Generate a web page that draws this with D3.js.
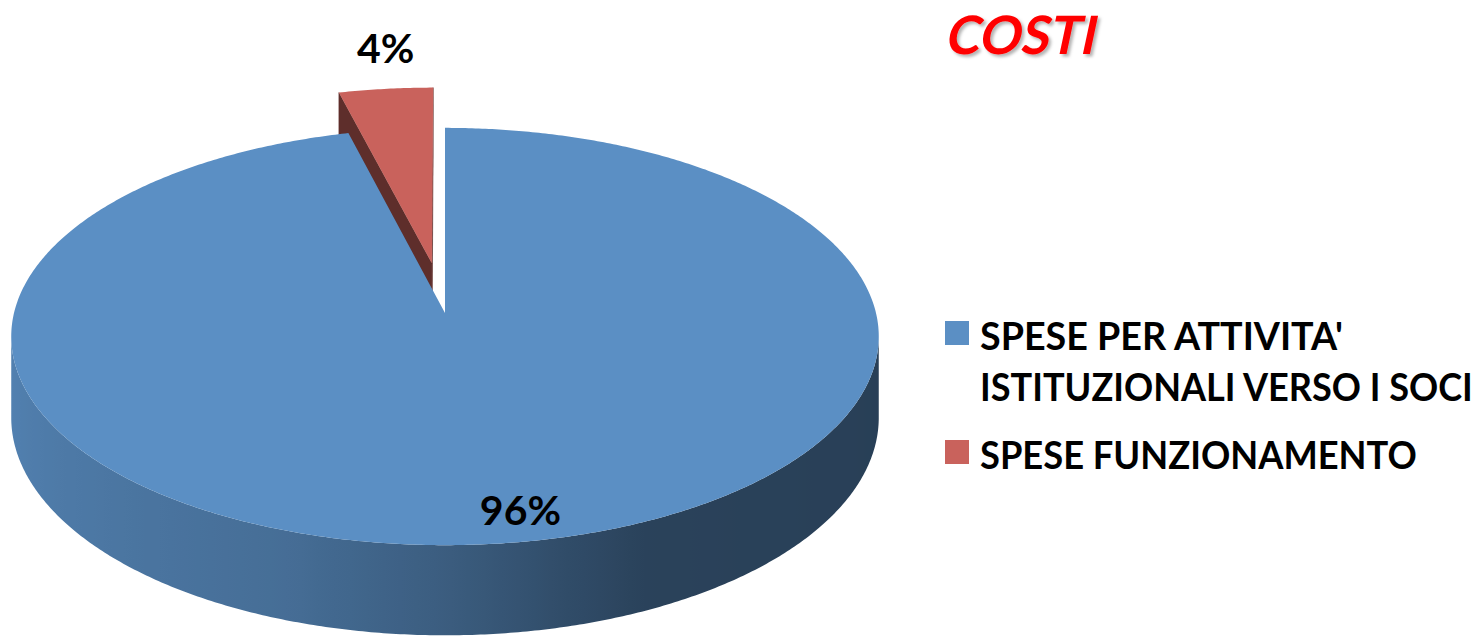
<!DOCTYPE html>
<html>
<head>
<meta charset="utf-8">
<script src="https://cdn.jsdelivr.net/npm/d3@7"></script>
<style>
   html, body { margin: 0; padding: 0; background: #ffffff; }
   svg { display: block; }
   text { font-family: Lato, 'Open Sans', sans-serif; font-weight: bold; }
</style>
</head>
<body>
<div class="pie-chart-container"></div>
<script>
// 3d pie: a flat disc seen from above with a bit of perspective

const title = 'COSTI';
const categories = [
   "SPESE PER ATTIVITA' ISTITUZIONALI VERSO I SOCI",
   'SPESE FUNZIONAMENTO'
];
const legend_lines = [
   ["SPESE PER ATTIVITA'", 'ISTITUZIONALI VERSO I SOCI'],
   ['SPESE FUNZIONAMENTO']
];
const values = [96, 4];
const explode = [0, 0.25];
const colors = ['#5b8fc4', '#c9625c'];

// frame + projection settings
const width = 1484;
const height = 637;
const view = {cx: 445, cy: 313, rx: 431, ry: 206, persp: 0.1127, depth: 80};
const legend_widths = [[363, 493], [437]];

function project(u, v, level) {
   const d = 1 - view.persp * v;
   return [view.cx + view.rx * u / d, view.cy + (view.ry * v + view.depth * level) / d];
}

// point on the disc at angle a (0 = 12 o'clock, clockwise), radius r
function disc_point(a, r, off, level) {
   return project(off.u + r * Math.sin(a), off.v - r * Math.cos(a), level);
}

function shade(color, f) {
   const c = d3.rgb(color);
   return d3.rgb(c.r * f, c.g * f, c.b * f).formatHex();
}

// darker towards the right, like the office charts
const wall_light = d3.scaleLinear()
   .domain([95, 155, 165, 180, 200, 240, 265])
   .range([0.44, 0.46, 0.53, 0.65, 0.77, 0.86, 0.91])
   .clamp(true);

function prepare_pie_data() {
   const rows = categories.map((c, i) => ({
      name: c,
      value: values[i],
      color: colors[i],
      explode: explode[i],
      lines: legend_lines[i]
   }));
   const total = d3.sum(values);
   const pie = d3.pie().sort(null).value(d => d.value).startAngle(0).endAngle(2 * Math.PI);
   return pie(rows).map((s, i) => {
      const mid = (s.startAngle + s.endAngle) / 2;
      const e = s.data.explode;
      return {
         ...s,
         id: i,
         mid: mid,
         off: {u: e * Math.sin(mid), v: -e * Math.cos(mid)},
         label: d3.format('.0%')(s.value / total)
      };
   });
}

function build_container() {
   const svg = d3.select('.pie-chart-container')
      .append('svg')
      .attr('width', width)
      .attr('height', height);
   const defs = svg.append('defs');
   defs.append('filter')
      .attr('id', 'title-shadow')
      .attr('filterUnits', 'userSpaceOnUse')
      .attr('x', 900).attr('y', 0)
      .attr('width', 260).attr('height', 80)
      .append('feDropShadow')
      .attr('dx', 2.5).attr('dy', 2.5)
      .attr('stdDeviation', 1.5)
      .attr('flood-color', '#000')
      .attr('flood-opacity', 0.3);
   return svg;
}

function draw_slice(svg, g, s) {
   const line = d3.line();
   const cam = {u: 0, v: 1 / view.persp};
   const step = Math.PI / 360;

   // outer wall, only the angles that face the camera
   const n = Math.max(1, Math.ceil((s.endAngle - s.startAngle) / step));
   const seen = [];
   for (let i = 0; i <= n; i++) {
      const a = s.startAngle + (s.endAngle - s.startAngle) * i / n;
      const nu = Math.sin(a), nv = -Math.cos(a);
      const facing = (cam.u - s.off.u - nu) * nu + (cam.v - s.off.v - nv) * nv;
      if (facing > 0) seen.push(a);
   }
   if (seen.length > 1) {
      const top = seen.map(a => disc_point(a, 1, s.off, 0));
      const bottom = seen.map(a => disc_point(a, 1, s.off, 1)).reverse();
      const xs = top.map(p => p[0]);
      const x0 = d3.min(xs), x1 = d3.max(xs);
      const grad = svg.select('defs').append('linearGradient')
         .attr('id', `wall-${s.id}`)
         .attr('gradientUnits', 'userSpaceOnUse')
         .attr('x1', x0).attr('x2', x1)
         .attr('y1', 0).attr('y2', 0);
      const stops = seen.map((a, i) => ({
         offset: (xs[i] - x0) / (x1 - x0),
         color: shade(s.data.color, wall_light(a * 180 / Math.PI))
      })).sort((p, q) => p.offset - q.offset);
      grad.selectAll('stop')
         .data(stops.filter((d, i) => i % 4 === 0 || i === stops.length - 1))
         .enter()
         .append('stop')
         .attr('offset', d => d.offset)
         .attr('stop-color', d => d.color);
      g.append('path')
         .attr('class', 'slice-wall')
         .attr('d', line(top.concat(bottom)) + 'Z')
         .style('fill', `url(#wall-${s.id})`);
   }

   // radial cut faces
   if (s.endAngle - s.startAngle < 2 * Math.PI) {
      [[s.startAngle, -1], [s.endAngle, 1]].forEach(([a, sign]) => {
         const nu = sign * Math.cos(a), nv = sign * Math.sin(a);
         const facing = (cam.u - s.off.u) * nu + (cam.v - s.off.v) * nv;
         if (facing <= 0.001) return;
         const col = shade(s.data.color, 0.47);
         g.append('path')
            .attr('class', 'slice-cut')
            .attr('d', line([
               project(s.off.u, s.off.v, 0), disc_point(a, 1, s.off, 0),
               disc_point(a, 1, s.off, 1), project(s.off.u, s.off.v, 1)
            ]) + 'Z')
            .style('fill', col)
            .style('stroke', col)
            .style('stroke-width', 0.5);
      });
   }

   // top face
   const pts = [project(s.off.u, s.off.v, 0)];
   for (let i = 0; i <= n; i++) {
      pts.push(disc_point(s.startAngle + (s.endAngle - s.startAngle) * i / n, 1, s.off, 0));
   }
   g.append('path')
      .attr('class', 'slice-top')
      .attr('d', line(pts) + 'Z')
      .style('fill', s.data.color);
}

function draw_pie(svg, slices) {
   const g = svg.append('g').attr('class', 'pie');
   // back slices first
   slices.slice()
      .sort((a, b) => a.off.v - b.off.v)
      .forEach(s => draw_slice(svg, g, s));
}

function add_slice_labels(svg, slices) {
   svg.append('g')
      .attr('class', 'slice-labels')
      .selectAll('text')
      .data(slices)
      .enter()
      .append('text')
      .attr('x', d => {
         if (d.data.explode > 0) return disc_point(d.mid, 1, d.off, 0)[0];
         return disc_point(d.mid, 0.8, d.off, 0)[0] + 28;
      })
      .attr('y', d => {
         if (d.data.explode > 0) return disc_point(d.mid, 1, d.off, 0)[1] - 26;
         return disc_point(d.mid, 0.8, d.off, 0)[1] + 32;
      })
      .attr('text-anchor', 'middle')
      .style('font-size', '41px')
      .style('fill', '#000')
      .text(d => d.label);
}

// squeeze a text horizontally to a given width (the original font is narrower)
function fit_width(sel, x, y, target, skew) {
   const w = sel.node().getComputedTextLength();
   sel.attr('transform', `translate(${x}, ${y}) skewX(${skew || 0}) scale(${target / w}, 1)`);
}

function add_title(svg) {
   // shadow filter sits on the untransformed group
   const g = svg.append('g')
      .attr('class', 'title')
      .attr('filter', 'url(#title-shadow)');
   // slanted by a skew so the ink stays inside the text box
   const t = g.append('text')
      .style('font-size', '53px')
      .style('fill', '#ff0000')
      .text(title);
   fit_width(t, 944, 54, 150, -12);
}

function add_legend(svg, slices) {
   const row_y = [321, 440];
   const legend = svg.append('g').attr('class', 'legend');
   const items = legend.selectAll('.legend-item')
      .data(slices)
      .enter()
      .append('g')
      .attr('class', 'legend-item')
      .attr('transform', (d, i) => `translate(945, ${row_y[i]})`);

   items.append('rect')
      .attr('width', 24)
      .attr('height', 24)
      .style('fill', d => d.data.color);

   items.each(function (d, i) {
      d3.select(this).selectAll('text')
         .data(d.data.lines)
         .enter()
         .append('text')
         .style('font-size', '39px')
         .style('fill', '#000')
         .text(l => l)
         .each(function (l, j) {
            fit_width(d3.select(this), 35, 29 + j * 51, legend_widths[i][j]);
         });
   });
}

function pie_chart_main() {
   const slices = prepare_pie_data();
   const svg = build_container();
   draw_pie(svg, slices);
   add_slice_labels(svg, slices);
   add_title(svg);
   add_legend(svg, slices);
}

pie_chart_main();
</script>
</body>
</html>
